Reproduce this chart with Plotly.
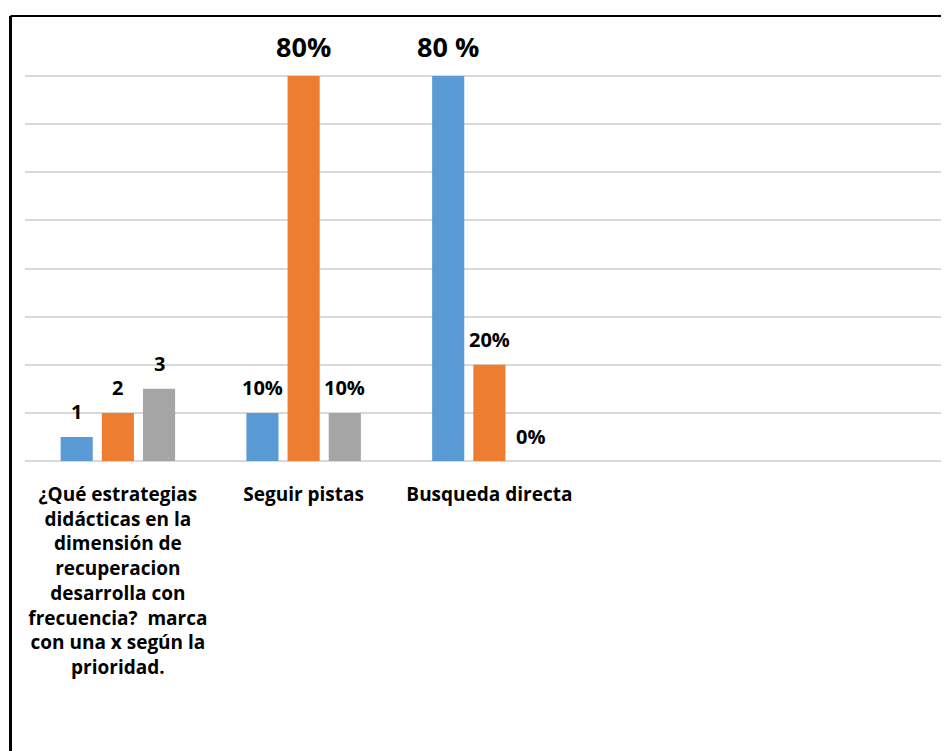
import plotly.graph_objects as go

categories = [
    "¿Qué estrategias<br>didácticas en la<br>dimensión de<br>recuperacion<br>desarrolla con<br>frecuencia?\u00a0 marca<br>con una x según la<br>prioridad.",
    "Seguir pistas",
    "Busqueda directa",
]
series_names = ["Serie 1", "Serie 2", "Serie 3"]
serie1 = [5, 10, 80]
serie2 = [10, 80, 20]
serie3 = [15, 10, 0]
labels1 = ["1", "10%", "80 %"]
labels2 = ["2", "80%", "20%"]
labels3 = ["3", "10%", "0%"]
y_ticks = [0, 10, 20, 30, 40, 50, 60, 70, 80, 90]

colors = ["#5B9BD5", "#ED7D31", "#A5A5A5"]
FONT = "Open Sans"

OFF = 8  # page body offset
W, H = 949, 751
ML, MT = 25 - OFF, 28 - OFF
plot_w = 924
plot_h = 433
MR = W - ML - plot_w
MB = H - MT - plot_h
cat_px = 185.75
x_range = [-0.5, -0.5 + plot_w / cat_px]

fig = go.Figure()
all_vals = [serie1, serie2, serie3]
all_labels = [labels1, labels2, labels3]
for name, vals, col in zip(series_names, all_vals, colors):
    fig.add_trace(go.Bar(x=list(range(len(categories))), y=vals, name=name,
                         marker=dict(color=col, line=dict(width=0))))

slot = cat_px * (1 - 0.335) / 3
annotations = []
for k, (vals, labs) in enumerate(zip(all_vals, all_labels)):
    for i, (v, t) in enumerate(zip(vals, labs)):
        big = v >= 80
        annotations.append(dict(
            x=i, y=v, xref="x", yref="y", text=t, showarrow=False,
            xshift=(k - 1) * slot, yshift=30 if big else 25,
            yanchor="middle", xanchor="center",
            font=dict(family=FONT, size=27 if big else 20, color="black", weight="bold"),
        ))

# chart border (frame)
px0 = (10.5 - OFF - ML) / plot_w
py_top = (MT + plot_h - (16 - OFF)) / plot_h
shapes = [
    dict(type="line", xref="paper", yref="paper", x0=px0, x1=px0, y0=py_top, y1=-1,
         line=dict(color="black", width=3)),
    dict(type="line", xref="paper", yref="paper", x0=px0, x1=1.2, y0=py_top, y1=py_top,
         line=dict(color="black", width=2)),
]

fig.update_layout(
    width=W, height=H,
    margin=dict(l=ML, r=MR, t=MT, b=MB),
    paper_bgcolor="white", plot_bgcolor="white",
    barmode="group", bargap=0.335, bargroupgap=0.22,
    showlegend=False,
    annotations=annotations,
    shapes=shapes,
    xaxis=dict(
        range=x_range, tickmode="array", tickvals=list(range(len(categories))),
        ticktext=categories, showgrid=False, zeroline=False, showline=False,
        ticks="", tickangle=0, ticklabelstandoff=20,
        tickfont=dict(family=FONT, size=19, color="black", weight="bold"),
    ),
    yaxis=dict(
        range=[0, 90], tickvals=y_ticks, showticklabels=False,
        showgrid=True, gridcolor="#D9D9D9", gridwidth=1.5,
        zeroline=True, zerolinecolor="#D9D9D9", zerolinewidth=1.5,
        showline=False,
    ),
)

fig.write_html("out.html")
